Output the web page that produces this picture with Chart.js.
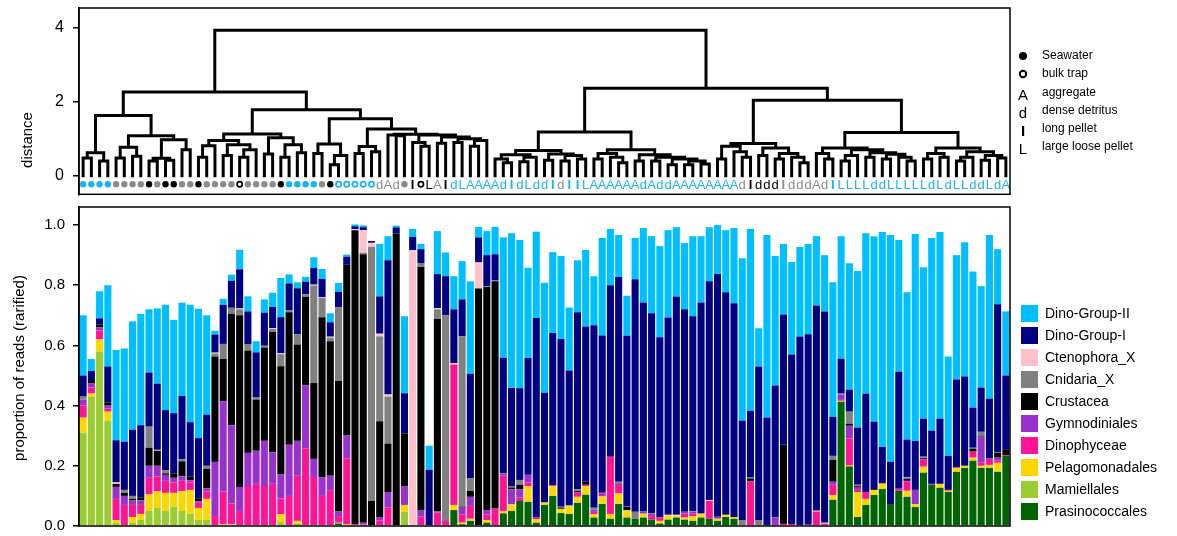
<!DOCTYPE html>
<html>
<head>
<meta charset="utf-8">
<script src="https://cdn.jsdelivr.net/npm/chart.js@4.4.1/dist/chart.umd.min.js"></script>
<style>
  body { margin: 0; background: #fff; }
  canvas { position: absolute; left: 0; }
  #dendro { top: 0; }
  #bars { top: 200px; }
</style>
</head>
<body>
<canvas id="dendro" width="1177" height="200"></canvas>
<canvas id="bars" width="1177" height="336"></canvas>
<script>
// ---- bar chart data (one value per sample, left to right) ----
const prasino = [
  0,0,0,0,0,0,0,0,0,0,
  0,0,0,0,0,0,0,0,0,0,
  0,0,0,0,0,0,.005,0,0,0,
  0,.008,0,0,0,0,0,0,0,0,
  0,0,0,0,0,.053,.006,.017,0,.011,
  0,.042,.05,.083,.08,.011,.07,.10,.043,.04,
  .077,.103,.028,.073,.024,.073,.028,.024,.028,.021,
  .008,.021,.028,.021,.017,.028,.024,.017,.03,.024,
  0,0,0,0,0,0,0,0,0,0,
  0,.087,.413,.198,.03,.07,.103,.123,.073,.117,
  .097,.063,.177,.137,.127,.113,.18,.193,.217,.193,
  .193,.18,.233
];
const mamiel = [
  .31,.43,.58,.35,.01,0,.01,.02,.05,.06,
  .05,.065,.05,.04,.02,.02,0,0,0,0,
  0,0,0,0,.013,0,0,0,0,0,
  0,.003,0,0,0,0,0,0,0,.047,
  0,0,0,0,0,0,0,0,0,0,
  0,0,0,0,0,0,0,0,0,0,
  0,.003,0,0,0,0,0,0,0,0,
  0,0,0,0,0,0,0,0,0,0,
  0,0,0,0,0,0,0,0,0,0,
  0,0,0,0,0,0,0,0,0,0,
  0,0,0,0,0,0,0,0,0,0,
  0,0,0
];
const pelago = [
  .05,.01,.04,.03,.01,0,.02,.02,.055,.055,
  .06,.045,.065,.08,.04,.07,.003,.005,.005,0,
  .003,0,.003,0,.026,0,.012,.003,.003,.003,
  .003,0,.005,0,0,0,0,0,0,.023,
  0,0,0,0,0,.017,.005,.007,0,.009,
  0,.008,.022,0,.053,.011,.008,.033,.014,.027,
  .02,.027,.011,.025,.016,.035,.024,0,.013,0,
  .009,.013,.006,.007,.016,.012,0,.007,.007,.006,
  0,0,0,0,0,0,0,0,0,0,
  0,.016,.003,.003,.083,.02,.017,.017,0,0,
  .02,.01,.02,0,.013,.004,.013,.007,.01,.007,
  .01,.03,0
];
const dinoph = [
  .04,.02,.03,.01,.07,.07,.04,.03,.055,.05,
  .04,.035,.035,.025,.017,.025,.03,.11,.07,.05,
  .13,.14,.13,.14,.052,.10,.15,.255,.16,.097,
  .114,.022,.22,.005,.005,0,.019,.061,0,0,
  0,.031,0,.045,.017,.467,.028,.043,0,.019,
  .058,.117,0,.011,.011,.008,0,.003,0,0,
  .015,.004,.008,.005,.19,.028,0,0,0,.012,
  .011,0,0,.013,.008,0,.059,0,0,0,
  0,.149,0,0,0,.007,.007,0,.004,.048,
  .008,.034,.003,.09,.007,.023,0,0,0,.007,
  .03,0,.023,0,0,.003,.003,0,.02,.01,
  .02,.007,.003
];
const gymno = [
  .02,.015,.01,.01,.04,.03,.015,.015,.04,.035,
  .02,.015,.015,.007,.005,.01,.18,.30,.26,.08,
  .11,.11,.15,.105,.08,.17,.116,.21,.06,.061,
  .05,.015,.076,0,.006,0,.011,.052,0,.061,
  0,.022,0,.003,0,0,.022,.03,.003,.014,
  0,.006,.05,.028,.026,0,0,0,0,0,
  0,0,.007,.006,0,.006,0,0,.007,.007,
  0,0,0,.006,.007,0,0,.007,0,0,
  0,0,0,0,.028,0,0,0,0,0,
  0,.01,.018,.042,.01,0,0,0,0,0,
  .003,.047,.003,.003,0,0,0,0,0,.087,
  .003,.01,0
];
const crust = [
  0,.01,.01,.01,.01,.01,.005,.01,.06,.05,
  .005,.015,.05,.013,.01,.065,.35,.14,.37,.57,
  .34,.17,.31,.40,.36,.44,.32,.293,.252,.533,
  .447,.435,.567,.978,.892,.083,.318,.161,.972,.177,
  0,.808,0,.641,0,0,.003,.02,.786,.741,
  .755,0,.006,.015,0,0,0,0,.004,0,
  .004,.01,0,.002,0,0,.012,0,0,0,
  0,0,0,0,0,0,0,0,0,0,
  0,.009,0,.003,0,.263,0,.003,0,0,
  0,.073,0,.007,.003,0,.003,0,0,0,
  .008,0,.004,0,0,0,0,0,.01,.003,
  0,.016,.017
];
const cnid = [
  .01,0,0,0,0,.01,.01,0,.07,0,
  .01,0,.007,0,0,.01,.01,.05,.02,.02,
  .02,.007,.006,.01,.04,.006,.034,.009,.324,.064,
  .012,.244,0,0,.005,.845,.282,.156,0,0,
  .003,.013,.003,.031,.683,0,.566,.041,0,.003,
  .003,.003,.003,.016,0,0,0,0,.003,.003,
  .006,0,.007,0,0,.005,.002,.023,0,.003,
  0,0,0,0,.002,.003,0,0,0,0,
  .02,.003,.02,0,0,0,0,0,0,0,
  0,.013,.003,.04,.004,0,0,.003,0,0,
  0,0,0,0,0,0,0,0,.003,.013,
  0,.003,0
];
const cteno = [
  0,0,0,0,.005,0,0,0,0,.003,
  0,0,0,0,0,0,.003,0,0,.003,
  0,0,0,.003,.003,0,0,0,.003,.003,
  .003,0,0,.003,.075,.013,.009,.007,0,0,
  .914,0,0,.004,0,.004,0,0,.087,0,
  0,0,0,0,0,0,0,0,0,0,
  0,0,0,0,0,0,0,0,0,0,
  0,.003,.003,0,0,0,.003,0,0,0,
  0,0,0,0,0,0,0,0,0,.003,
  .003,0,0,0,0,0,0,0,0,0,
  .003,0,.003,0,0,0,0,0,0,0,
  0,0,0
];
const dinoG1 = [
  .07,.03,.02,.12,.14,.16,.22,.24,.18,.22,
  .20,.20,.21,.18,.20,.17,.06,.13,.09,.13,
  .11,.15,.11,.07,.12,.09,.153,.042,.055,.06,
  .048,.051,.027,.01,.01,.006,.124,.446,.02,.133,
  .044,.046,.184,.113,.13,.179,.123,.348,.083,.103,
  .087,.383,.328,.305,.388,.661,.365,.505,.557,.447,
  .588,.516,.606,.522,.57,.68,.566,.773,.695,.664,
  .599,.656,.726,.673,.647,.70,.727,.806,.74,.71,
  .33,.222,.51,.357,.439,.433,.563,.627,.633,.682,
  .702,.13,.116,.073,.19,.327,.224,.12,.14,.389,
  .126,.163,.127,.177,.217,.113,.291,.297,.133,.147,
  .197,.491,.247
];
const dinoG2 = [
  .20,.04,.09,.27,.30,.31,.36,.37,.21,.25,
  .35,.31,.31,.39,.43,.33,.013,.02,.02,.065,
  .05,.037,.044,.047,.13,.03,.02,.016,.036,.033,
  .03,.03,.007,.006,.006,0,.174,.08,.006,.256,
  .026,.017,.08,.143,.079,.11,.127,.307,.035,.08,
  .091,.40,.514,.492,.30,.287,.365,.269,.276,.209,
  .173,.254,.163,.324,.187,.14,.133,.137,.247,.256,
  .303,.29,.23,.22,.266,.22,.18,.163,.206,.25,
  .54,.604,.127,.607,.43,.234,.307,.297,.30,.23,
  .187,.447,.407,.42,.52,.533,.616,.714,.754,.437,
  .49,.687,.503,.64,.62,.33,.413,.446,.453,.337,
  .544,.183,.213
];
const yTicks = [0, 0.2, 0.4, 0.6, 0.8, 1.0];

// ---- dendrogram data ----
// leaf marks: S seawater, B bulk trap, A aggregate, d dense detritus, I long pellet, L large loose pellet
const leafMarks = ('SSSSSSSSSSSSSSSSSSSBSSSSSSSSSSSBBBBB' +
  'dAdSIBLAI' + 'dLAAAAd' + 'IdLdd' + 'Id' + 'I' +
  'ILAAAAAAdAddAAAAAAAAd' + 'Iddd' + 'IdddAd' + 'ILLLLddLLLLLdLdLLddLdA').split('');
const leafColors = ('bbbbggggkgkkggkggggkggggkbbbbgkbbbbb' +
  'ggggkkkgk' + 'bbbbbbb' + 'bbbbb' + 'bg' + 'b' +
  'bbbbbbbbbbbbbbbbbbbbg' + 'kkkk' + 'gggggg' + 'bbbbbbbbbbbbbbbbbbbbbb').split('');
const distTicks = [0, 2, 4];
// [height, left, right]; plain numbers are leaves
const tree = [3.93,
  [2.26,
    [1.63,
      [0.62, [0.48, 0, 1], [0.40, 2, 3]],
      [1.08,
        [0.77, [0.48, 4, 5], [0.53, 6, 7]],
        [0.97, [0.47, [0.40, 8, 9], [0.42, 10, 11]], [0.70, 12, 13]]]],
    [1.78,
      [1.13,
        [0.95, [0.81, [0.50, 14, 15], 16], [0.84, [0.55, 17, 18], [0.70, [0.50, 19, 20], 21]]],
        [1.03, [0.59, 22, 23], [0.84, [0.50, 24, 25], [0.62, 26, 27]]]],
      [1.54,
        [0.86, [0.60, 28, 29], [0.55, [0.30, 30, 31], 32]],
        [1.26,
          [0.79, [0.60, 33, 34], [0.65, 35, 36]],
          [1.12, [1.10, 37, [1.08, 38, 39]],
            [1.10, [0.90, 40, [0.80, 41, 42]],
              [1.05, [0.88, 43, 44], [1.00, [0.90, 45, 46], [0.95, [0.80, 47, 48], 49]]]]]]]]],
  [2.36,
    [1.18,
      [0.68, [0.57, [0.45, 50, [0.35, 51, 52]], [0.50, [0.38, 53, 54], 55]],
        [0.59, [0.42, 56, 57], [0.55, [0.40, 58, 59], [0.45, 60, 61]]]],
      [0.70, [0.60, [0.45, 62, 63], [0.50, 64, [0.35, 65, 66]]],
        [0.57, [0.40, 67, 68], [0.50, [0.40, 69, 70], [0.45, [0.30, 71, 72], [0.40, [0.30, 73, 74], [0.32, 75, 76]]]]]]],
    [2.04,
      [0.87, [0.80, [0.45, 77, 78], [0.65, 79, [0.50, 80, 81]]],
        [0.75, [0.55, 82, 83], [0.60, [0.45, 84, 85], [0.50, 86, [0.35, 87, 88]]]]],
      [1.17,
        [0.75, [0.60, 89, [0.45, 90, 91]],
          [0.70, [0.55, [0.40, 92, 93], 94], [0.62, [0.50, 95, 96], [0.58, [0.45, 97, 98], [0.50, 99, [0.40, 100, 101]]]]]],
        [0.75, [0.60, [0.45, 102, 103], [0.50, 104, 105]],
          [0.65, [0.50, [0.40, 106, 107], 108], [0.55, [0.42, 109, 110], [0.48, 111, 112]]]]]]]
];

const FONT = '"Liberation Sans", Arial, sans-serif';
const markColor = { b: '#1cb4ee', g: '#8c8c8c', k: '#000000' };
const labelH = -0.23;

// walk the tree into U-shaped segments, broken by null points
const dendroPts = [];
function walk(node) {
  if (typeof node === 'number') return { x: node, h: 0 };
  const a = walk(node[1]), b = walk(node[2]);
  dendroPts.push({ x: a.x, y: a.h }, { x: a.x, y: node[0] }, { x: b.x, y: node[0] },
    { x: b.x, y: b.h }, { x: b.x, y: null });
  return { x: (a.x + b.x) / 2, h: node[0] };
}
walk(tree);

const dotPts = [], dotFill = [], dotEdge = [], dotWidth = [], dotRad = [];
leafMarks.forEach((m, i) => {
  if (m !== 'S' && m !== 'B') return;
  const c = markColor[leafColors[i]];
  dotPts.push({ x: i, y: labelH });
  dotFill.push(m === 'S' ? c : '#ffffff');
  dotEdge.push(c);
  dotWidth.push(m === 'S' ? 0 : 1.7);
  dotRad.push(m === 'S' ? 3.2 : 2.6);
});

// keep the plot box exactly where the layout padding puts it
function fixAxis(s) {
  s.width = 79;
  s.paddingTop = 0;
  s.paddingBottom = 0;
}

const boxPlugin = {
  id: 'box',
  afterDraw(chart) {
    const { ctx, chartArea: a } = chart;
    ctx.save();
    ctx.strokeStyle = '#000';
    ctx.lineWidth = 1.5;
    ctx.strokeRect(a.left, a.top, a.right - a.left, a.bottom - a.top);
    const t = chart.options.plugins.box;
    ctx.fillStyle = '#000';
    ctx.font = '15px ' + FONT;
    ctx.textAlign = 'center';
    ctx.textBaseline = 'middle';
    ctx.translate(t.x, t.y);
    ctx.rotate(-Math.PI / 2);
    ctx.fillText(t.text, 0, 0);
    ctx.restore();
  }
};

const leafTextPlugin = {
  id: 'leafText',
  afterDatasetsDraw(chart) {
    const { ctx, scales: { x, y } } = chart;
    ctx.save();
    ctx.textAlign = 'center';
    ctx.textBaseline = 'middle';
    leafMarks.forEach((m, i) => {
      if (m === 'S' || m === 'B') return;
      ctx.fillStyle = markColor[leafColors[i]];
      ctx.font = (m === 'I' ? 'bold ' : '') + '13px ' + FONT;
      ctx.fillText(m, x.getPixelForValue(i), y.getPixelForValue(labelH) + 1);
    });
    // key for sample types
    const kx = 1023, tx = 1042;
    const rows = [['S', 'Seawater', 56], ['B', 'bulk trap', 74], ['A', 'aggregate', 93],
      ['d', 'dense detritus', 111], ['I', 'long pellet', 129], ['L', 'large loose pellet', 147]];
    rows.forEach(([m, txt, yy]) => {
      ctx.fillStyle = '#000';
      ctx.strokeStyle = '#000';
      if (m === 'S') {
        ctx.beginPath(); ctx.arc(kx, yy, 4, 0, Math.PI * 2); ctx.fill();
      } else if (m === 'B') {
        ctx.lineWidth = 2;
        ctx.beginPath(); ctx.arc(kx, yy, 3.2, 0, Math.PI * 2); ctx.stroke();
      } else {
        ctx.font = (m === 'I' ? 'bold ' : '') + '15px ' + FONT;
        ctx.fillText(m, kx, yy + 3);
      }
      ctx.textAlign = 'left';
      ctx.font = '12px ' + FONT;
      ctx.fillText(txt, tx, yy);
      ctx.textAlign = 'center';
    });
    ctx.restore();
  }
};

new Chart(document.getElementById('dendro'), {
  type: 'line',
  data: {
    datasets: [{
      data: dendroPts,
      borderColor: '#000',
      borderWidth: 3,
      borderCapStyle: 'square',
      borderJoinStyle: 'miter',
      pointRadius: 0,
      spanGaps: false,
      tension: 0
    }, {
      data: dotPts,
      showLine: false,
      pointRadius: dotRad,
      pointBackgroundColor: dotFill,
      pointBorderColor: dotEdge,
      pointBorderWidth: dotWidth
    }]
  },
  options: {
    responsive: false,
    animation: false,
    layout: { padding: { left: 0, right: 167, top: 8, bottom: 3 } },
    plugins: {
      legend: { display: false },
      tooltip: { enabled: false },
      box: { text: 'distance', x: 28, y: 140 }
    },
    scales: {
      x: { type: 'linear', min: -0.5, max: 112.5, display: false },
      y: {
        type: 'linear', min: -0.5, max: 4.53,
        afterBuildTicks: (s) => { s.ticks = distTicks.map(v => ({ value: v })); },
        afterFit: fixAxis,
        grid: { drawOnChartArea: false, tickLength: 6, color: '#000', lineWidth: 1.5 },
        border: { color: '#000', width: 1.5 },
        ticks: { color: '#000', font: { size: 16, family: FONT }, padding: 9 }
      }
    }
  },
  plugins: [boxPlugin, leafTextPlugin]
});

// ---- stacked bar chart ----
const series = [
  ['Prasinococcales', prasino, '#006400'],
  ['Mamiellales', mamiel, '#9acd32'],
  ['Pelagomonadales', pelago, '#ffd700'],
  ['Dinophyceae', dinoph, '#ff1493'],
  ['Gymnodiniales', gymno, '#9932cc'],
  ['Crustacea', crust, '#000000'],
  ['Cnidaria_X', cnid, '#808080'],
  ['Ctenophora_X', cteno, '#ffc0cb'],
  ['Dino-Group-I', dinoG1, '#000080'],
  ['Dino-Group-II', dinoG2, '#00bfff']
];

const barKeyPlugin = {
  id: 'barKey',
  afterDraw(chart) {
    const { ctx } = chart;
    ctx.save();
    ctx.font = '14px ' + FONT;
    ctx.textBaseline = 'middle';
    ctx.textAlign = 'left';
    const top = series.slice().reverse();
    top.forEach(([name, , color], k) => {
      const yy = 113 + k * 22;
      ctx.fillStyle = color;
      ctx.fillRect(1021, yy - 8, 17, 17);
      ctx.fillStyle = '#000';
      ctx.fillText(name, 1045, yy + 1);
    });
    ctx.restore();
  }
};

new Chart(document.getElementById('bars'), {
  type: 'bar',
  data: {
    labels: leafMarks.map((m, i) => String(i + 1)),
    datasets: series.map(([name, vals, color]) => ({
      label: name,
      data: vals,
      backgroundColor: color,
      borderWidth: 0,
      barPercentage: 0.86,
      categoryPercentage: 1.0
    }))
  },
  options: {
    responsive: false,
    animation: false,
    layout: { padding: { left: 0, right: 167, top: 7, bottom: 10 } },
    plugins: {
      legend: { display: false },
      tooltip: { enabled: false },
      box: { text: 'proportion of reads (rarified)', x: 20, y: 168 }
    },
    scales: {
      x: { stacked: true, display: false },
      y: {
        stacked: true, min: 0, max: 1.06,
        afterBuildTicks: (s) => { s.ticks = yTicks.map(v => ({ value: v })); },
        afterFit: fixAxis,
        grid: { drawOnChartArea: false, tickLength: 6, color: '#000', lineWidth: 1.5 },
        border: { color: '#000', width: 1.5 },
        ticks: { color: '#000', font: { size: 15, family: FONT }, padding: 8,
          callback: (v) => Number(v).toFixed(1) }
      }
    }
  },
  plugins: [boxPlugin, barKeyPlugin]
});
</script>
</body>
</html>
